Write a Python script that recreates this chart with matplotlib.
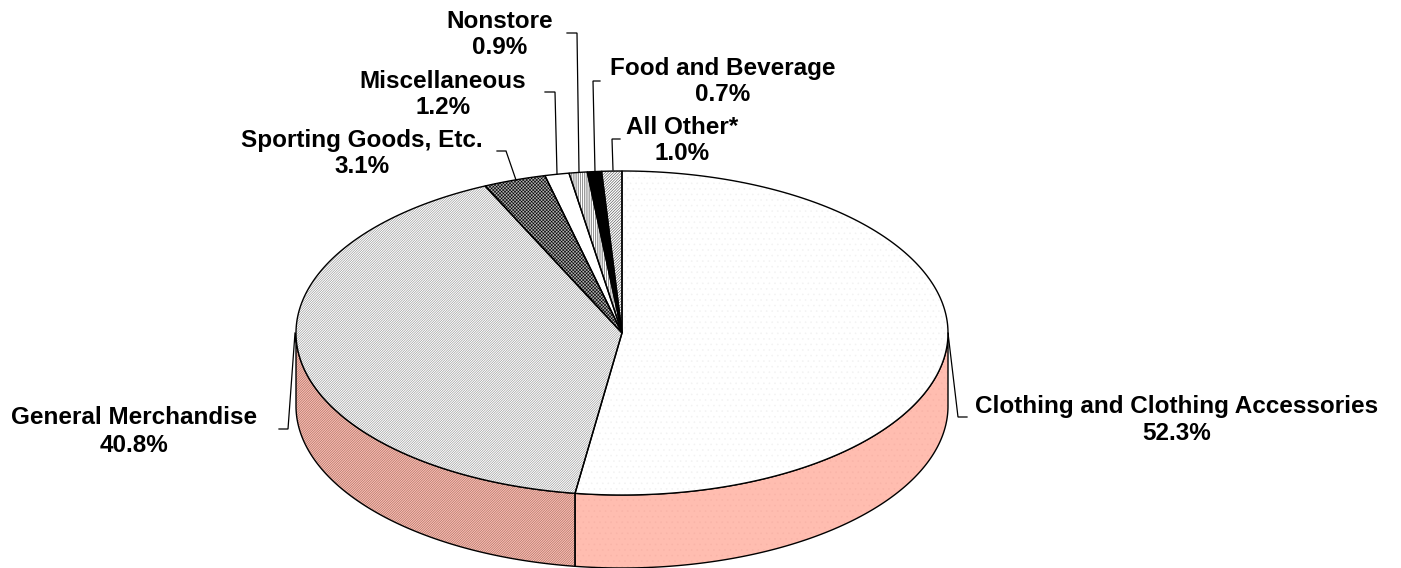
import numpy as np
import matplotlib
matplotlib.use("Agg")
import matplotlib.pyplot as plt
from matplotlib.patches import Polygon

categories = ["Clothing and Clothing Accessories", "General Merchandise", "Sporting Goods, Etc.",
              "Miscellaneous", "Nonstore", "Food and Beverage", "All Other*"]
shares = [52.3, 40.8, 3.1, 1.2, 0.9, 0.7, 1.0]

plt.rcParams["font.family"] = ["Liberation Sans", "DejaVu Sans"]
plt.rcParams["hatch.linewidth"] = 0.4

W, H = 1401, 568
CX, CY, RX, RY, DEPTH = 622, 333, 326, 162, 73

top_styles = [
    dict(facecolor="white", hatch="...", hcolor="#f2f2f2"),
    dict(facecolor="white", hatch="/" * 14, hcolor="#8c8c8c"),
    dict(facecolor="#b0b0b0", hatch="x" * 10, hcolor="#000000"),
    dict(facecolor="white", hatch=None, hcolor="black"),
    dict(facecolor="white", hatch="|" * 9, hcolor="#444444"),
    dict(facecolor="black", hatch=None, hcolor="black"),
    dict(facecolor="white", hatch="/" * 12, hcolor="#444444"),
]
side_styles = [
    dict(facecolor="#ffbdb0", hatch="...", hcolor="#f9b4a8"),
    dict(facecolor="#ffbdb0", hatch="/" * 14, hcolor="#9a6a62"),
]
# label anchor (centre x, vertical centre of the two lines) and leader polyline, in pixels
label_pos = [(1177, 415), (134, 427), (362, 150), (443, 91), (500, 31), (723, 78), (682, 137)]
line_space = [1.26, 1.26, 1.12, 1.12, 1.12, 1.12, 1.12]
leaders = [
    [(948, 333), (958, 417), (967, 417)],
    [(295, 333), (288, 429), (279, 429)],
    [(497, 151), (506, 151), (516, 180)],
    [(545, 92), (555, 92), (557, 174)],
    [(567, 33), (577, 33), (579, 172)],
    [(600, 81), (593, 81), (595, 172)],
    [(620, 139), (612, 139), (613, 170)],
]

fig = plt.figure(figsize=(W / 100, H / 100), dpi=100, facecolor="white")
ax = fig.add_axes([0, 0, 1, 1])
ax.set_xlim(0, W)
ax.set_ylim(H, 0)
ax.axis("off")


def rim(a0, a1, dy=0):
    t = np.radians(np.linspace(a0, a1, max(int(abs(a1 - a0) * 3), 2)))
    return np.column_stack([CX + RX * np.sin(t), CY - RY * np.cos(t) + dy])


def add(points, style, z):
    ax.add_patch(Polygon(points, closed=True, facecolor=style["facecolor"], edgecolor="none", zorder=z))
    if style["hatch"]:
        ax.add_patch(Polygon(points, closed=True, facecolor="none", edgecolor=style["hcolor"],
                             hatch=style["hatch"], linewidth=0, zorder=z + 0.1))
    ax.add_patch(Polygon(points, closed=True, facecolor="none", edgecolor="black",
                         linewidth=1.0, zorder=z + 0.2))


total = sum(shares)
ends = np.cumsum(shares) / total * 360
starts = np.concatenate([[0], ends[:-1]])

# side wall: only the front half (90 to 270 degrees clockwise from the top) is visible
for a0, a1, style in zip(starts[:2], ends[:2], side_styles):
    lo, hi = max(a0, 90), min(a1, 270)
    if hi > lo:
        add(np.vstack([rim(lo, hi), rim(hi, lo, DEPTH)]), style, 1)

for a0, a1, style in zip(starts, ends, top_styles):
    add(np.vstack([[(CX, CY)], rim(a0, a1)]), style, 2)

for pts in leaders:
    xs, ys = zip(*pts)
    ax.plot(xs, ys, color="black", lw=0.9, zorder=4, solid_joinstyle="miter")

for name, share, (x, y), ls in zip(categories, shares, label_pos, line_space):
    ax.text(x, y, f"{name}\n{share:.1f}%", ha="center", va="center_baseline", fontsize=17.5,
            fontweight="bold", linespacing=ls, color="black", zorder=5)

fig.savefig("out.png", dpi=100, facecolor="white")
